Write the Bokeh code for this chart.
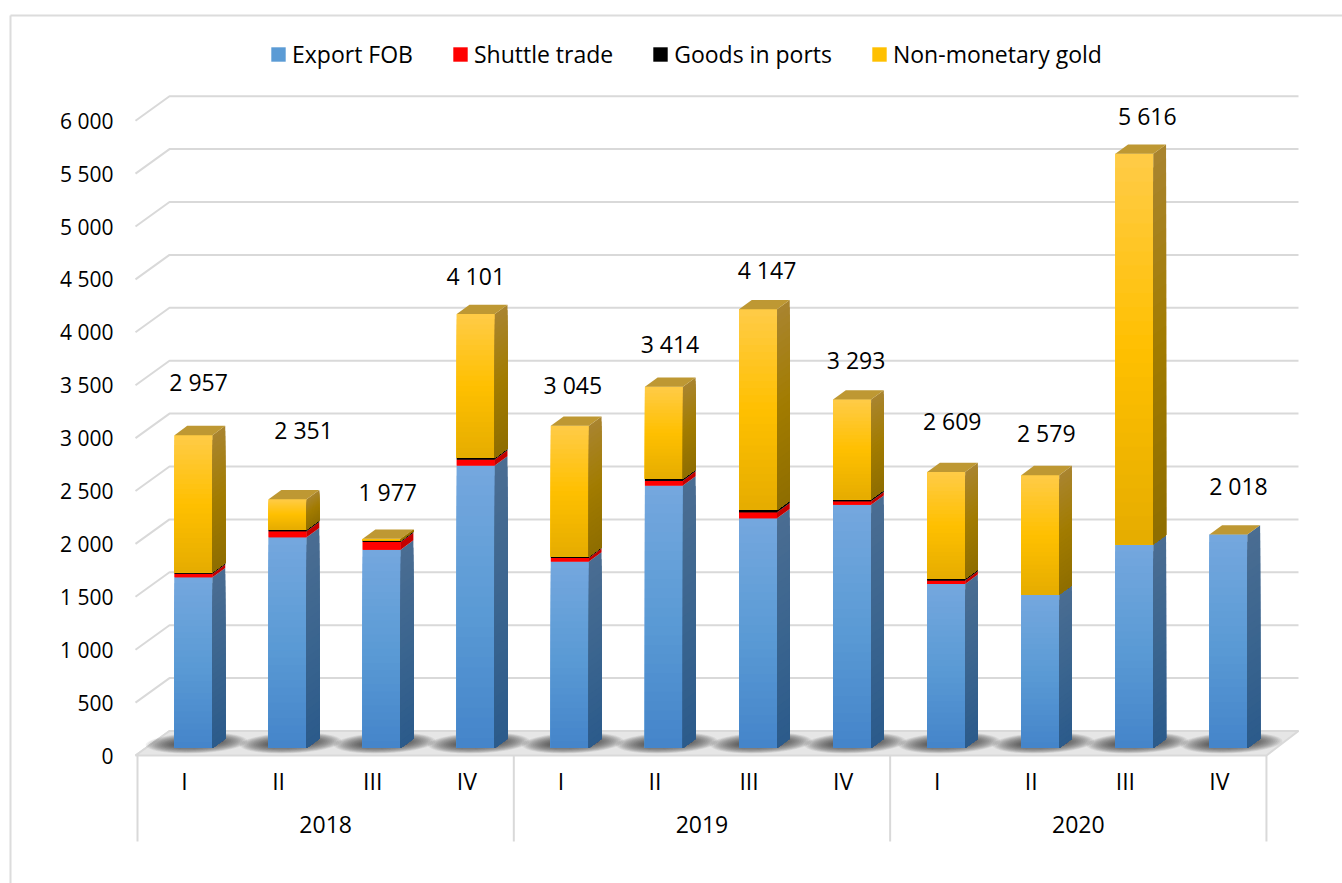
import math
from bokeh.plotting import figure
from bokeh.models import (ColumnDataSource, FixedTicker, Legend, LegendItem, LinearAxis, Range1d)
from bokeh.core.properties import value
from bokeh.embed import file_html
from bokeh.resources import INLINE

# ---- data
quarters = ["I", "II", "III", "IV", "I", "II", "III", "IV", "I", "II", "III", "IV"]
years = ["2018", "2019", "2020"]
export_fob = [1614, 1992, 1875, 2669, 1762, 2480, 2171, 2298, 1551, 1450, 1926, 2018]
shuttle = [32, 57, 72, 57, 35, 47, 57, 34, 32, 0, 0, 0]
ports = [15, 16, 13, 16, 13, 17, 22, 19, 16, 0, 0, 0]
gold = [1296, 286, 17, 1359, 1235, 870, 1897, 942, 1010, 1129, 3690, 0]
y_ticks = list(range(0, 6001, 500))
series_names = ["Export FOB", "Shuttle trade", "Goods in ports", "Non-monetary gold"]
# manual placement of the data labels, in pixels from the top centre of each bar
label_dx = [5, 16, 6, 0, 3, 6, 9, 4, 6, 6, 13, 10]
label_dy = [-53, -69, -47, -38, -41, -43, -39, -40, -51, -42, -38, -48]

# ---- layout
ORG = 0               # page pixel of the figure's corner
W, H = 1342, 883
PX_X = 94.08          # pixels per category
PX_Y = 52.9 / 500     # pixels per value unit
AX_X, AX_Y = 137, 755 # page pixel of the axes origin


def sx(px):
    return (px - AX_X) / PX_X


def sy(py):
    return (AX_Y - py) / PX_Y


FONT = "Open Sans"
GRID = "#D9D9D9"
BAR_DX, BAR_LIFT = 9 / PX_X, 7.5 / PX_Y
HALF = 19 / PX_X
DEPTH_X, DEPTH_Y = 12.7 / PX_X, 9.3 / PX_Y
WALL_X, WALL_Y = 33 / PX_X, 24.5 / PX_Y
N = len(quarters)

p = figure(width=W, height=H, output_backend="svg", toolbar_location=None,
           x_range=Range1d(sx(ORG), sx(ORG + W)), y_range=Range1d(sy(ORG + H), sy(ORG)),
           x_axis_location=None, y_axis_location=None, min_border=0,
           outline_line_color=None, background_fill_color="white", border_fill_color="white")
p.grid.visible = False

# chart frame (top and left edges are the only visible ones)
p.multi_line([[sx(10), sx(ORG + W)], [sx(10), sx(10)]], [[sy(15), sy(15)], [sy(15), sy(ORG + H)]],
             line_color="#DCDCDC", line_width=2)

# wall gridlines, with the slanted part on the side wall
wall_end = sx(1298)
p.multi_line([[0 - 2 / PX_X, WALL_X - 1 / PX_X, wall_end] for _ in y_ticks],
             [[t, t + WALL_Y, t + WALL_Y] for t in y_ticks],
             line_color=GRID, line_width=2)

# floor
p.patch([0 - 2 / PX_X, N, N + WALL_X - 1 / PX_X, WALL_X - 1 / PX_X], [0, 0, WALL_Y, WALL_Y],
        fill_color="#E6E6E6", line_color=GRID, line_width=2)

# soft shadows on the floor
layers = 16
shadow_xs, shadow_ys = [], []
pts = [2 * math.pi * a / 32 for a in range(32)]
for i in range(N):
    cx = i + 0.5 + BAR_DX + 3 / PX_X
    mid = 12.5 / PX_Y
    for k in range(layers):
        f = k / (layers - 1)
        hw = (50 - 28 * f) / PX_X
        hh = (10.5 - 7 * f) / PX_Y
        skew = 10 / PX_X
        shadow_xs.append([cx + hw * math.cos(a) + skew * math.sin(a) for a in pts])
        shadow_ys.append([mid + hh * math.sin(a) for a in pts])
p.patches(shadow_xs, shadow_ys, fill_color="#303030", fill_alpha=0.075, line_color=None)


def lerp(c1, c2, t):
    a = [int(c1[j:j + 2], 16) for j in (1, 3, 5)]
    b = [int(c2[j:j + 2], 16) for j in (1, 3, 5)]
    return "#%02x%02x%02x" % tuple(round(a[j] + (b[j] - a[j]) * t) for j in range(3))


def ramp(stops, t):
    if t < 0.5:
        return lerp(stops[0], stops[1], t * 2)
    return lerp(stops[1], stops[2], (t - 0.5) * 2)


styles = [
    (export_fob, "#5B9BD5", ("#74A7DE", "#5B9BD5", "#4585CA"), ("#4A6D92", "#3B658F", "#2C5B8B"), 28),
    (shuttle, "#FF0000", ("#FF0000", "#FF0000", "#F00000"), ("#C40000", "#C00000", "#B00000"), 1),
    (ports, "#000000", ("#000000", "#000000", "#000000"), ("#000000", "#000000", "#000000"), 1),
    (gold, "#FFC000", ("#FFCB45", "#FFC000", "#E6AD00"), ("#A9842E", "#A27C00", "#8F6E00"), 28),
]

legend_items = []
bottoms = [0.0] * N
for name, (vals, flat, front, side, steps) in zip(series_names, styles):
    x_center = [i + 0.5 + BAR_DX for i in range(N)]
    low = [b + BAR_LIFT for b in bottoms]
    high = [b + v + BAR_LIFT for b, v in zip(bottoms, vals)]
    base = p.vbar(x=x_center, bottom=low, top=high, width=2 * HALF, fill_color=flat, line_color=None)
    legend_items.append(LegendItem(label=name, renderers=[base]))

    fl, fr, fb, ft, fc = [], [], [], [], []
    sxs, sys, sc = [], [], []
    for i in range(N):
        if vals[i] <= 0:
            continue
        xl, xr = x_center[i] - HALF, x_center[i] + HALF
        for k in range(steps):
            t = k / max(steps - 1, 1)
            y_top = high[i] - (high[i] - low[i]) * k / steps
            fl.append(xl); fr.append(xr); fb.append(low[i]); ft.append(y_top)
            fc.append(ramp(front, t))
            sxs.append([xr, xr + DEPTH_X, xr + DEPTH_X, xr])
            sys.append([y_top, y_top + DEPTH_Y, low[i] + DEPTH_Y, low[i]])
            sc.append(ramp(side, t))
    p.quad(left=fl, right=fr, bottom=fb, top=ft, fill_color=fc, line_color=None)
    p.patches(sxs, sys, fill_color=sc, line_color=None)
    bottoms = [b + v for b, v in zip(bottoms, vals)]

totals = bottoms
# top faces
top_xs, top_ys = [], []
for i in range(N):
    xl = i + 0.5 + BAR_DX - HALF
    xr = i + 0.5 + BAR_DX + HALF
    t = totals[i] + BAR_LIFT
    top_xs.append([xl, xr, xr + DEPTH_X, xl + DEPTH_X])
    top_ys.append([t, t, t + DEPTH_Y, t + DEPTH_Y])
p.patches(top_xs, top_ys, fill_color="#BE9833", line_color=None)

# data labels
label_src = ColumnDataSource(dict(
    x=[i + 0.5 + BAR_DX for i in range(N)],
    y=[t + BAR_LIFT for t in totals],
    text=[f"{round(t):,}".replace(",", " ") for t in totals],
    dx=label_dx, dy=label_dy))
p.text(x="x", y="y", text="text", x_offset="dx", y_offset="dy", source=label_src,
       text_align="center", text_baseline="middle", text_font=value(FONT),
       text_font_size="23px", text_color="#000000")

# category separators
sep_x = [0, 4, 8, 12]
p.segment(x0=sep_x, x1=sep_x, y0=[0] * 4, y1=[sy(841)] * 4, line_color=GRID, line_width=2)

# axes
yaxis = LinearAxis(fixed_location=sx(127), ticker=FixedTicker(ticks=y_ticks),
                   major_label_overrides={t: f"{t:,}".replace(",", " ") for t in y_ticks},
                   axis_line_color=None, major_tick_line_color=None, minor_tick_line_color=None,
                   major_label_standoff=8, major_label_text_font=FONT,
                   major_label_text_font_size="21px", major_label_text_color="#000000")
p.add_layout(yaxis, "left")

q_ticks = [i + 0.5 for i in range(N)]
qaxis = LinearAxis(fixed_location=0, ticker=FixedTicker(ticks=q_ticks),
                   major_label_overrides=dict(zip(q_ticks, quarters)),
                   axis_line_color=None, major_tick_line_color=None, minor_tick_line_color=None,
                   major_label_standoff=3, major_label_text_font=FONT,
                   major_label_text_font_size="23px", major_label_text_color="#000000")
p.add_layout(qaxis, "below")

y_ticks_x = [2, 6, 10]
yearaxis = LinearAxis(fixed_location=0, ticker=FixedTicker(ticks=y_ticks_x),
                      major_label_overrides=dict(zip(y_ticks_x, years)),
                      axis_line_color=None, major_tick_line_color=None, minor_tick_line_color=None,
                      major_label_standoff=54, major_label_text_font=FONT,
                      major_label_text_font_size="23px", major_label_text_color="#000000")
p.add_layout(yearaxis, "below")

legend = Legend(items=legend_items, orientation="horizontal", location=(269 - ORG, H - (55 - ORG) - 15),
                glyph_width=18, glyph_height=18, label_standoff=5, spacing=38, padding=0, margin=0,
                border_line_color=None, background_fill_alpha=0,
                label_text_font=FONT, label_text_font_size="23px", label_text_color="#000000")
p.add_layout(legend)

open("out.html", "w").write(file_html(p, INLINE))
